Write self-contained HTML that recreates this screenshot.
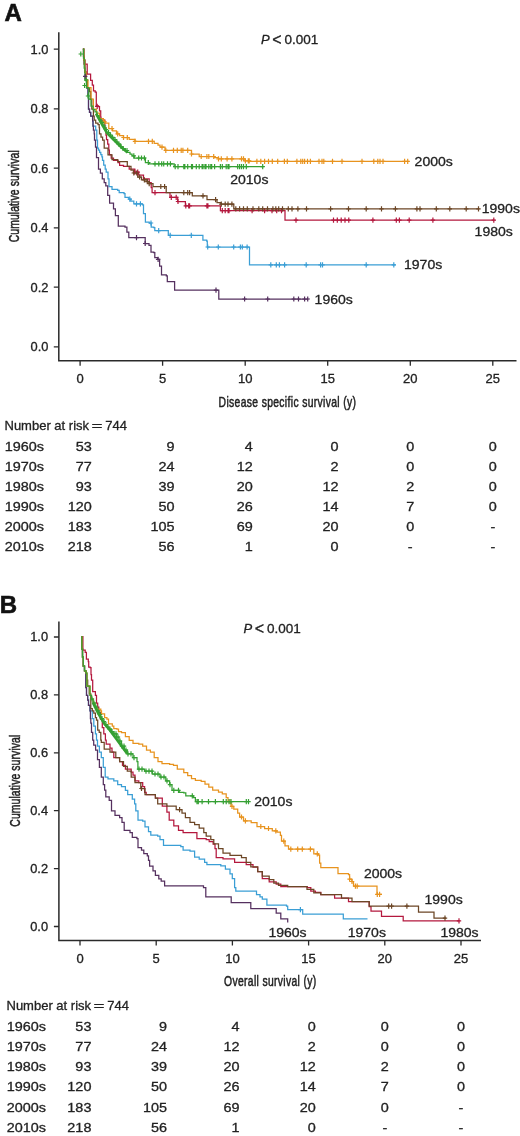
<!DOCTYPE html>
<html><head><meta charset="utf-8"><title>Survival</title>
<style>
html,body{margin:0;padding:0;background:#fff;}
body{width:520px;height:1136px;overflow:hidden;}
svg{display:block;will-change:transform;}
text{font-family:"Liberation Sans", sans-serif;fill:#222;}
.tk{font-size:12.5px;stroke:#222;stroke-width:0.3px;}
.tb{font-size:13px;stroke:#222;stroke-width:0.3px;}
.tl{font-size:13px;stroke:#222;stroke-width:0.3px;}
.lb{font-size:13px;stroke:#222;stroke-width:0.3px;}
.ax{font-size:14px;stroke:#222;stroke-width:0.5px;}
.pl{font-size:24px;font-weight:bold;fill:#111;stroke:#111;stroke-width:0.6px;}
</style></head>
<body>
<svg width="520" height="1136" viewBox="0 0 520 1136">
<text x="4.4" y="21.3" class="pl">A</text>
<text x="-0.2" y="612.5" class="pl">B</text>
<path d="M58.8 32.3V360.7H516.5" fill="none" stroke="#2a2a2a" stroke-width="1.5"/>
<path d="M53.8 346.8H58.8M53.8 287.2H58.8M53.8 227.8H58.8M53.8 168.2H58.8M53.8 108.8H58.8M53.8 49.2H58.8M80.1 360.7V365.7M162.6 360.7V365.7M245.2 360.7V365.7M327.7 360.7V365.7M410.3 360.7V365.7M492.8 360.7V365.7" stroke="#2a2a2a" stroke-width="1.3"/>
<text transform="translate(48.40,351.15) scale(1.030,1)" text-anchor="end" class="tk">0.0</text>
<text transform="translate(48.40,291.65) scale(1.030,1)" text-anchor="end" class="tk">0.2</text>
<text transform="translate(48.40,232.15) scale(1.030,1)" text-anchor="end" class="tk">0.4</text>
<text transform="translate(48.40,172.65) scale(1.030,1)" text-anchor="end" class="tk">0.6</text>
<text transform="translate(48.40,113.15) scale(1.030,1)" text-anchor="end" class="tk">0.8</text>
<text transform="translate(48.40,53.65) scale(1.030,1)" text-anchor="end" class="tk">1.0</text>
<text transform="translate(80.10,383.20) scale(1.040,1)" text-anchor="middle" class="tk">0</text>
<text transform="translate(162.64,383.20) scale(1.040,1)" text-anchor="middle" class="tk">5</text>
<text transform="translate(245.18,383.20) scale(1.040,1)" text-anchor="middle" class="tk">10</text>
<text transform="translate(327.72,383.20) scale(1.040,1)" text-anchor="middle" class="tk">15</text>
<text transform="translate(410.26,383.20) scale(1.040,1)" text-anchor="middle" class="tk">20</text>
<text transform="translate(492.80,383.20) scale(1.040,1)" text-anchor="middle" class="tk">25</text>
<text x="261.00" y="44.20" class="tl" font-style="italic">P</text>
<text x="277.00" y="44.60" text-anchor="middle" class="tl" style="font-size:16px">&lt;</text>
<text transform="translate(318.40,44.20) scale(1.040,1)" text-anchor="end" class="tl">0.001</text>
<text transform="translate(218.60,406.50) scale(0.740,1)" class="ax" textLength="185.68" lengthAdjust="spacing">Disease specific survival (y)</text>
<text transform="translate(18.60,242.30) rotate(-90) scale(0.740,1)" class="ax" textLength="124.32" lengthAdjust="spacing">Cumulative survival</text>
<path d="M82.9 49.2H83.8V60.0H84.8V72.0H86.0V80.0H87.0V88.0H88.0V95.4H88.5V109.2H89.5V112.3H90.7V116.2H92.6V120.8H93.0V126.0H95.7V130.0H96.8V140.0H97.5V148.0H98.5V150.0H99.6V152.3H100.8V154.6H101.9V156.9H102.5V160.4H103.7V165.0H105.2V169.0H106.2V172.0H108.0V178.8H109.0V186.5H112.0V189.4H117.7V190.4H119.2V192.5H124.0V193.5H125.0V197.3H128.8V199.2H130.8V201.2H133.8V203.8H142.5V204.8H143.5V213.5H145.4V222.1H149.2V223.0H151.2V227.0H153.8V227.7H154.8V230.6H168.3V235.4H202.9V240.2H206.7V241.2H207.3V247.0H249.5V264.8H395.6V264.8" fill="none" stroke="#3a9ed5" stroke-width="1.25"/>
<path d="M82.9 49.2H83.8V60.0H84.8V72.0H86.0V80.0H87.0V88.0H88.0V95.4H88.5V109.2H89.5V112.3H90.7V116.2H92.6V120.8H93.0V126.0H93.4V130.0H94.2V133.8H94.5V140.0H95.5V147.0H96.5V157.7H98.5V169.2H100.4V173.0H102.3V178.8H104.2V182.7H105.8V185.8H107.7V195.4H109.6V203.0H113.5V208.8H115.4V215.6H118.3V226.2H125.0V227.1H126.9V232.0H128.8V237.7H145.2V243.5H149.0V245.4H151.0V252.1H153.8V252.7H154.8V257.5H157.7V259.4H159.6V266.2H161.5V274.8H166.3V275.8H167.3V281.5H174.6V290.2H218.8V299.0H308.3V299.0" fill="none" stroke="#55305f" stroke-width="1.25"/>
<path d="M82.9 49.2H83.4V56.0H84.0V64.2H87.2V74.0H90.6V80.4H92.3V85.0H93.5V90.8H95.2V92.0H96.3V105.8H98.4V106.5H99.5V110.8H100.7V117.0H101.0V120.0H104.9V128.0H106.0V135.0H106.5V139.6H107.7V144.2H108.8V150.0H109.4V154.6H111.2V158.0H113.5V160.4H118.0V162.7H119.6V165.4H123.5V166.3H129.2V169.2H134.8V172.1H138.7V175.0H143.5V178.8H149.2V182.7H151.2V187.5H152.1V192.7H170.0V197.3H177.7V201.5H185.4V205.8H220.4V210.6H285.0V220.2H494.5V220.2" fill="none" stroke="#b4183e" stroke-width="1.25"/>
<path d="M82.9 49.2H83.8V60.0H84.8V72.0H86.0V80.0H87.2V87.7H89.5V91.5H90.7V99.2H91.8V109.2H93.4V116.2H94.2V120.0H95.7V123.0H98.0V124.6H99.2V127.7H99.5V133.8H101.0V137.0H102.6V140.0H104.2V148.0H108.0V154.8H112.0V159.6H117.7V161.5H123.5V161.5H127.3V166.3H131.0V170.2H133.8V173.0H137.7V177.0H141.5V179.8H147.3V181.7H149.2V183.7H153.0V186.5H166.2V192.7H192.3V195.8H207.0V199.6H217.0V202.7H220.8V204.2H233.8V208.8H479.4V208.8" fill="none" stroke="#6c4626" stroke-width="1.25"/>
<path d="M82.9 49.2H83.8V60.0H84.8V72.0H86.0V80.0H88.0V87.7H91.0V99.2H93.4V109.2H96.5V113.0H99.5V118.5H103.4V121.5H105.7V123.0H108.8V128.5H112.6V130.8H116.5V133.8H119.6V135.6H123.5V137.5H129.2V139.4H135.0V141.3H154.2V143.3H158.0V145.2H160.0V147.1H165.0V150.4H191.5V154.0H199.2V156.5H214.6V157.7H218.5V158.8H245.0V160.8H250.0V161.4H408.6V161.4" fill="none" stroke="#e8931e" stroke-width="1.25"/>
<path d="M82.9 49.2H83.5V58.0H84.2V68.0H84.9V80.0H86.5V87.7H88.8V99.2H91.0V106.0H93.0V109.5H95.0V111.9H97.0V115.5H99.0V119.0H100.8V122.3H102.7V126.0H104.6V129.5H106.5V132.7H108.8V135.0H111.0V137.3H113.5V139.6H115.8V142.0H118.0V144.2H120.5V146.5H123.0V148.5H125.3V150.5H127.3V152.3H130.0V154.0H132.0V155.8H134.2V158.0H145.4V162.5H149.2V163.8H174.2V166.6H263.5V166.6" fill="none" stroke="#35a033" stroke-width="1.25"/>
<polyline points="96.0,113.5 101.0,122.5 107.0,133.0 113.5,139.6 120.0,146.0 127.5,152.5" fill="none" stroke="#35a033" stroke-width="2.60" stroke-linejoin="round"/>
<path d="M129.8 196.6V201.8M127.6 199.2H132.0M136.5 201.2V206.4M134.3 203.8H138.7M140.4 201.2V206.4M138.2 203.8H142.6M151.0 220.4V225.6M148.8 223.0H153.2M158.7 228.0V233.2M156.5 230.6H160.9M170.2 232.8V238.0M168.0 235.4H172.4M191.3 232.8V238.0M189.1 235.4H193.5M207.7 244.4V249.6M205.5 247.0H209.9M218.3 244.4V249.6M216.1 247.0H220.5M233.7 244.4V249.6M231.5 247.0H235.9M240.4 244.4V249.6M238.2 247.0H242.6M242.3 244.4V249.6M240.1 247.0H244.5M247.1 244.4V249.6M244.9 247.0H249.3M270.8 262.2V267.4M268.6 264.8H273.0M276.3 262.2V267.4M274.1 264.8H278.5M279.4 262.2V267.4M277.2 264.8H281.6M284.6 262.2V267.4M282.4 264.8H286.8M306.2 262.2V267.4M304.0 264.8H308.4M320.6 262.2V267.4M318.4 264.8H322.8M322.5 262.2V267.4M320.3 264.8H324.7M366.2 262.2V267.4M364.0 264.8H368.4M393.8 262.2V267.4M391.6 264.8H396.0" fill="none" stroke="#3a9ed5" stroke-width="1.2"/>
<path d="M85.2 73.7V78.9M83.0 76.3H87.4M136.5 235.1V240.3M134.3 237.7H138.7M145.2 240.9V246.1M143.0 243.5H147.4M158.1 256.8V262.0M155.9 259.4H160.3M216.0 287.6V292.8M213.8 290.2H218.2M244.6 296.4V301.6M242.4 299.0H246.8M267.7 296.4V301.6M265.5 299.0H269.9M293.8 296.4V301.6M291.6 299.0H296.0M298.5 296.4V301.6M296.3 299.0H300.7M304.6 296.4V301.6M302.4 299.0H306.8M307.7 296.4V301.6M305.5 299.0H309.9" fill="none" stroke="#55305f" stroke-width="1.2"/>
<path d="M97.2 103.7V108.9M95.0 106.3H99.4M134.8 169.5V174.7M132.6 172.1H137.0M137.7 169.5V174.7M135.5 172.1H139.9M155.0 190.1V195.3M152.8 192.7H157.2M171.3 194.7V199.9M169.1 197.3H173.5M176.2 194.7V199.9M174.0 197.3H178.4M178.0 198.9V204.1M175.8 201.5H180.2M185.8 203.2V208.4M183.6 205.8H188.0M188.7 203.2V208.4M186.5 205.8H190.9M189.6 203.2V208.4M187.4 205.8H191.8M206.9 203.2V208.4M204.7 205.8H209.1M207.9 203.2V208.4M205.7 205.8H210.1M222.3 208.0V213.2M220.1 210.6H224.5M225.2 208.0V213.2M223.0 210.6H227.4M228.1 208.0V213.2M225.9 210.6H230.3M229.0 208.0V213.2M226.8 210.6H231.2M252.1 208.0V213.2M249.9 210.6H254.3M264.6 208.0V213.2M262.4 210.6H266.8M272.0 208.0V213.2M269.8 210.6H274.2M276.7 208.0V213.2M274.5 210.6H278.9M281.5 208.0V213.2M279.3 210.6H283.7M296.0 217.6V222.8M293.8 220.2H298.2M333.5 217.6V222.8M331.3 220.2H335.7M337.3 217.6V222.8M335.1 220.2H339.5M341.2 217.6V222.8M339.0 220.2H343.4M345.0 217.6V222.8M342.8 220.2H347.2M348.8 217.6V222.8M346.6 220.2H351.0M372.9 217.6V222.8M370.7 220.2H375.1M396.3 217.6V222.8M394.1 220.2H398.5M399.4 217.6V222.8M397.2 220.2H401.6M409.2 217.6V222.8M407.0 220.2H411.4M432.9 217.6V222.8M430.7 220.2H435.1M493.8 217.6V222.8M491.6 220.2H496.0" fill="none" stroke="#b4183e" stroke-width="1.2"/>
<path d="M133.8 170.4V175.6M131.6 173.0H136.0M136.7 170.4V175.6M134.5 173.0H138.9M139.6 174.4V179.6M137.4 177.0H141.8M144.4 177.2V182.4M142.2 179.8H146.6M147.3 179.1V184.3M145.1 181.7H149.5M149.2 181.1V186.3M147.0 183.7H151.4M160.8 183.9V189.1M158.6 186.5H163.0M164.6 183.9V189.1M162.4 186.5H166.8M183.8 190.1V195.3M181.6 192.7H186.0M187.7 190.1V195.3M185.5 192.7H189.9M189.6 190.1V195.3M187.4 192.7H191.8M203.0 193.2V198.4M200.8 195.8H205.2M215.6 197.0V202.2M213.4 199.6H217.8M221.3 201.6V206.8M219.1 204.2H223.5M225.2 201.6V206.8M223.0 204.2H227.4M228.0 201.6V206.8M225.8 204.2H230.2M231.9 201.6V206.8M229.7 204.2H234.1M235.8 206.2V211.4M233.6 208.8H238.0M239.6 206.2V211.4M237.4 208.8H241.8M243.5 206.2V211.4M241.3 208.8H245.7M247.3 206.2V211.4M245.1 208.8H249.5M253.0 206.2V211.4M250.8 208.8H255.2M258.8 206.2V211.4M256.6 208.8H261.0M262.7 206.2V211.4M260.5 208.8H264.9M267.5 206.2V211.4M265.3 208.8H269.7M272.9 206.2V211.4M270.7 208.8H275.1M275.8 206.2V211.4M273.6 208.8H278.0M278.7 206.2V211.4M276.5 208.8H280.9M282.5 206.2V211.4M280.3 208.8H284.7M288.3 206.2V211.4M286.1 208.8H290.5M292.0 206.2V211.4M289.8 208.8H294.2M297.9 206.2V211.4M295.7 208.8H300.1M306.5 206.2V211.4M304.3 208.8H308.7M330.6 206.2V211.4M328.4 208.8H332.8M348.5 206.2V211.4M346.3 208.8H350.7M366.2 206.2V211.4M364.0 208.8H368.4M381.5 206.2V211.4M379.3 208.8H383.7M395.4 206.2V211.4M393.2 208.8H397.6M416.9 206.2V211.4M414.7 208.8H419.1M420.0 206.2V211.4M417.8 208.8H422.2M436.3 206.2V211.4M434.1 208.8H438.5M449.8 206.2V211.4M447.6 208.8H452.0M466.2 206.2V211.4M464.0 208.8H468.4M478.5 206.2V211.4M476.3 208.8H480.7" fill="none" stroke="#6c4626" stroke-width="1.2"/>
<path d="M104.2 118.9V124.1M102.0 121.5H106.4M112.0 125.9V131.1M109.8 128.5H114.2M117.7 131.2V136.4M115.5 133.8H119.9M123.5 134.9V140.1M121.3 137.5H125.7M127.3 134.9V140.1M125.1 137.5H129.5M135.0 138.7V143.9M132.8 141.3H137.2M148.5 138.7V143.9M146.3 141.3H150.7M152.3 138.7V143.9M150.1 141.3H154.5M162.0 144.5V149.7M159.8 147.1H164.2M165.8 147.8V153.0M163.6 150.4H168.0M173.5 147.8V153.0M171.3 150.4H175.7M177.3 147.8V153.0M175.1 150.4H179.5M181.2 147.8V153.0M179.0 150.4H183.4M182.9 147.8V153.0M180.7 150.4H185.1M187.7 147.8V153.0M185.5 150.4H189.9M191.5 151.4V156.6M189.3 154.0H193.7M201.2 153.9V159.1M199.0 156.5H203.4M206.9 153.9V159.1M204.7 156.5H209.1M208.8 153.9V159.1M206.6 156.5H211.0M213.7 153.9V159.1M211.5 156.5H215.9M218.5 156.2V161.4M216.3 158.8H220.7M221.3 156.2V161.4M219.1 158.8H223.5M227.1 156.2V161.4M224.9 158.8H229.3M231.9 156.2V161.4M229.7 158.8H234.1M241.5 156.2V161.4M239.3 158.8H243.7M243.5 156.2V161.4M241.3 158.8H245.7M245.4 158.2V163.4M243.2 160.8H247.6M248.3 158.2V163.4M246.1 160.8H250.5M249.2 158.2V163.4M247.0 160.8H251.4M256.9 158.8V164.0M254.7 161.4H259.1M260.8 158.8V164.0M258.6 161.4H263.0M264.6 158.8V164.0M262.4 161.4H266.8M268.5 158.8V164.0M266.3 161.4H270.7M272.3 158.8V164.0M270.1 161.4H274.5M277.7 158.8V164.0M275.5 161.4H279.9M284.4 158.8V164.0M282.2 161.4H286.6M287.3 158.8V164.0M285.1 161.4H289.5M296.9 158.8V164.0M294.7 161.4H299.1M300.8 158.8V164.0M298.6 161.4H303.0M302.7 158.8V164.0M300.5 161.4H304.9M304.6 158.8V164.0M302.4 161.4H306.8M307.5 158.8V164.0M305.3 161.4H309.7M310.4 158.8V164.0M308.2 161.4H312.6M319.0 158.8V164.0M316.8 161.4H321.2M322.0 158.8V164.0M319.8 161.4H324.2M323.8 158.8V164.0M321.6 161.4H326.0M332.5 158.8V164.0M330.3 161.4H334.7M342.0 158.8V164.0M339.8 161.4H344.2M362.0 158.8V164.0M359.8 161.4H364.2M373.8 158.8V164.0M371.6 161.4H376.0M377.8 158.8V164.0M375.6 161.4H380.0M380.0 158.8V164.0M377.8 161.4H382.2M383.0 158.8V164.0M380.8 161.4H385.2M404.6 158.8V164.0M402.4 161.4H406.8M407.7 158.8V164.0M405.5 161.4H409.9" fill="none" stroke="#e8931e" stroke-width="1.2"/>
<path d="M80.8 51.4V56.6M78.6 54.0H83.0M86.2 77.4V82.6M84.0 80.0H88.4M84.6 82.9V88.1M82.4 85.5H86.8M88.0 93.4V98.6M85.8 96.0H90.2M102.0 119.7V124.9M99.8 122.3H104.2M104.0 123.4V128.6M101.8 126.0H106.2M106.0 126.9V132.1M103.8 129.5H108.2M108.5 130.1V135.3M106.3 132.7H110.7M110.5 132.4V137.6M108.3 135.0H112.7M112.5 134.7V139.9M110.3 137.3H114.7M115.0 137.0V142.2M112.8 139.6H117.2M117.0 139.4V144.6M114.8 142.0H119.2M119.0 141.6V146.8M116.8 144.2H121.2M121.0 143.9V149.1M118.8 146.5H123.2M123.0 145.9V151.1M120.8 148.5H125.2M127.0 147.9V153.1M124.8 150.5H129.2M133.8 153.2V158.4M131.6 155.8H136.0M138.7 155.4V160.6M136.5 158.0H140.9M141.5 155.4V160.6M139.3 158.0H143.7M144.4 155.4V160.6M142.2 158.0H146.6M148.3 159.9V165.1M146.1 162.5H150.5M155.0 161.2V166.4M152.8 163.8H157.2M158.8 161.2V166.4M156.6 163.8H161.0M161.7 161.2V166.4M159.5 163.8H163.9M163.7 161.2V166.4M161.5 163.8H165.9M167.5 161.2V166.4M165.3 163.8H169.7M170.4 161.2V166.4M168.2 163.8H172.6M175.2 164.0V169.2M173.0 166.6H177.4M178.0 164.0V169.2M175.8 166.6H180.2M183.8 164.0V169.2M181.6 166.6H186.0M184.8 164.0V169.2M182.6 166.6H187.0M187.7 164.0V169.2M185.5 166.6H189.9M191.5 164.0V169.2M189.3 166.6H193.7M192.5 164.0V169.2M190.3 166.6H194.7M196.3 164.0V169.2M194.1 166.6H198.5M199.2 164.0V169.2M197.0 166.6H201.4M202.1 164.0V169.2M199.9 166.6H204.3M203.0 164.0V169.2M200.8 166.6H205.2M205.0 164.0V169.2M202.8 166.6H207.2M206.0 164.0V169.2M203.8 166.6H208.2M208.8 164.0V169.2M206.6 166.6H211.0M210.8 164.0V169.2M208.6 166.6H213.0M211.7 164.0V169.2M209.5 166.6H213.9M214.6 164.0V169.2M212.4 166.6H216.8M220.4 164.0V169.2M218.2 166.6H222.6M222.3 164.0V169.2M220.1 166.6H224.5M226.2 164.0V169.2M224.0 166.6H228.4M228.0 164.0V169.2M225.8 166.6H230.2M229.0 164.0V169.2M226.8 166.6H231.2M237.7 164.0V169.2M235.5 166.6H239.9M239.6 164.0V169.2M237.4 166.6H241.8M241.5 164.0V169.2M239.3 166.6H243.7M243.5 164.0V169.2M241.3 166.6H245.7M246.3 164.0V169.2M244.1 166.6H248.5M262.7 164.0V169.2M260.5 166.6H264.9" fill="none" stroke="#35a033" stroke-width="1.2"/>
<text transform="translate(414.60,166.20) scale(1.080,1)" class="lb">2000s</text>
<text transform="translate(230.20,184.20) scale(1.080,1)" class="lb">2010s</text>
<text transform="translate(481.70,213.20) scale(1.080,1)" class="lb">1990s</text>
<text transform="translate(474.60,236.00) scale(1.080,1)" class="lb">1980s</text>
<text transform="translate(404.00,268.70) scale(1.080,1)" class="lb">1970s</text>
<text transform="translate(314.60,303.80) scale(1.080,1)" class="lb">1960s</text>
<text x="4.50" y="430.20" class="tb">Number at risk</text>
<text transform="translate(97.10,430.00) scale(1.450,1)" text-anchor="middle" class="tb">=</text>
<text x="105.30" y="430.20" class="tb">744</text>
<text transform="translate(4.80,451.25) scale(1.110,1)" class="tb">1960s</text>
<text transform="translate(91.70,451.25) scale(1.110,1)" text-anchor="end" class="tb">53</text>
<text transform="translate(174.50,451.25) scale(1.110,1)" text-anchor="end" class="tb">9</text>
<text transform="translate(252.80,451.25) scale(1.110,1)" text-anchor="end" class="tb">4</text>
<text transform="translate(338.50,451.25) scale(1.110,1)" text-anchor="end" class="tb">0</text>
<text transform="translate(410.26,451.25) scale(1.110,1)" text-anchor="middle" class="tb">0</text>
<text transform="translate(492.80,451.25) scale(1.110,1)" text-anchor="middle" class="tb">0</text>
<text transform="translate(4.80,471.25) scale(1.110,1)" class="tb">1970s</text>
<text transform="translate(91.70,471.25) scale(1.110,1)" text-anchor="end" class="tb">77</text>
<text transform="translate(174.50,471.25) scale(1.110,1)" text-anchor="end" class="tb">24</text>
<text transform="translate(252.80,471.25) scale(1.110,1)" text-anchor="end" class="tb">12</text>
<text transform="translate(338.50,471.25) scale(1.110,1)" text-anchor="end" class="tb">2</text>
<text transform="translate(410.26,471.25) scale(1.110,1)" text-anchor="middle" class="tb">0</text>
<text transform="translate(492.80,471.25) scale(1.110,1)" text-anchor="middle" class="tb">0</text>
<text transform="translate(4.80,491.25) scale(1.110,1)" class="tb">1980s</text>
<text transform="translate(91.70,491.25) scale(1.110,1)" text-anchor="end" class="tb">93</text>
<text transform="translate(174.50,491.25) scale(1.110,1)" text-anchor="end" class="tb">39</text>
<text transform="translate(252.80,491.25) scale(1.110,1)" text-anchor="end" class="tb">20</text>
<text transform="translate(338.50,491.25) scale(1.110,1)" text-anchor="end" class="tb">12</text>
<text transform="translate(410.26,491.25) scale(1.110,1)" text-anchor="middle" class="tb">2</text>
<text transform="translate(492.80,491.25) scale(1.110,1)" text-anchor="middle" class="tb">0</text>
<text transform="translate(4.80,511.25) scale(1.110,1)" class="tb">1990s</text>
<text transform="translate(91.70,511.25) scale(1.110,1)" text-anchor="end" class="tb">120</text>
<text transform="translate(174.50,511.25) scale(1.110,1)" text-anchor="end" class="tb">50</text>
<text transform="translate(252.80,511.25) scale(1.110,1)" text-anchor="end" class="tb">26</text>
<text transform="translate(338.50,511.25) scale(1.110,1)" text-anchor="end" class="tb">14</text>
<text transform="translate(410.26,511.25) scale(1.110,1)" text-anchor="middle" class="tb">7</text>
<text transform="translate(492.80,511.25) scale(1.110,1)" text-anchor="middle" class="tb">0</text>
<text transform="translate(4.80,531.25) scale(1.110,1)" class="tb">2000s</text>
<text transform="translate(91.70,531.25) scale(1.110,1)" text-anchor="end" class="tb">183</text>
<text transform="translate(174.50,531.25) scale(1.110,1)" text-anchor="end" class="tb">105</text>
<text transform="translate(252.80,531.25) scale(1.110,1)" text-anchor="end" class="tb">69</text>
<text transform="translate(338.50,531.25) scale(1.110,1)" text-anchor="end" class="tb">20</text>
<text transform="translate(410.26,531.25) scale(1.110,1)" text-anchor="middle" class="tb">0</text>
<text transform="translate(492.80,531.25) scale(1.110,1)" text-anchor="middle" class="tb">-</text>
<text transform="translate(4.80,551.25) scale(1.110,1)" class="tb">2010s</text>
<text transform="translate(91.70,551.25) scale(1.110,1)" text-anchor="end" class="tb">218</text>
<text transform="translate(174.50,551.25) scale(1.110,1)" text-anchor="end" class="tb">56</text>
<text transform="translate(252.80,551.25) scale(1.110,1)" text-anchor="end" class="tb">1</text>
<text transform="translate(338.50,551.25) scale(1.110,1)" text-anchor="end" class="tb">0</text>
<text transform="translate(410.26,551.25) scale(1.110,1)" text-anchor="middle" class="tb">-</text>
<text transform="translate(492.80,551.25) scale(1.110,1)" text-anchor="middle" class="tb">-</text>
<path d="M58.9 621.5V940.4H481.0" fill="none" stroke="#2a2a2a" stroke-width="1.5"/>
<path d="M53.9 926.5H58.9M53.9 868.6H58.9M53.9 810.7H58.9M53.9 752.8H58.9M53.9 694.9H58.9M53.9 637.0H58.9M80.0 940.4V945.4M156.2 940.4V945.4M232.4 940.4V945.4M308.6 940.4V945.4M384.8 940.4V945.4M461.0 940.4V945.4" stroke="#2a2a2a" stroke-width="1.3"/>
<text transform="translate(48.10,930.90) scale(1.030,1)" text-anchor="end" class="tk">0.0</text>
<text transform="translate(48.10,873.00) scale(1.030,1)" text-anchor="end" class="tk">0.2</text>
<text transform="translate(48.10,815.10) scale(1.030,1)" text-anchor="end" class="tk">0.4</text>
<text transform="translate(48.10,757.20) scale(1.030,1)" text-anchor="end" class="tk">0.6</text>
<text transform="translate(48.10,699.30) scale(1.030,1)" text-anchor="end" class="tk">0.8</text>
<text transform="translate(48.10,641.40) scale(1.030,1)" text-anchor="end" class="tk">1.0</text>
<text transform="translate(80.00,962.90) scale(1.040,1)" text-anchor="middle" class="tk">0</text>
<text transform="translate(156.20,962.90) scale(1.040,1)" text-anchor="middle" class="tk">5</text>
<text transform="translate(232.40,962.90) scale(1.040,1)" text-anchor="middle" class="tk">10</text>
<text transform="translate(308.60,962.90) scale(1.040,1)" text-anchor="middle" class="tk">15</text>
<text transform="translate(384.80,962.90) scale(1.040,1)" text-anchor="middle" class="tk">20</text>
<text transform="translate(461.00,962.90) scale(1.040,1)" text-anchor="middle" class="tk">25</text>
<text x="243.40" y="633.10" class="tl" font-style="italic">P</text>
<text x="259.40" y="633.50" text-anchor="middle" class="tl" style="font-size:16px">&lt;</text>
<text transform="translate(300.80,633.10) scale(1.040,1)" text-anchor="end" class="tl">0.001</text>
<text transform="translate(224.00,986.30) scale(0.740,1)" class="ax" textLength="124.59" lengthAdjust="spacing">Overall survival (y)</text>
<text transform="translate(20.00,826.70) rotate(-90) scale(0.740,1)" class="ax" textLength="124.32" lengthAdjust="spacing">Cumulative survival</text>
<path d="M81.4 636.5H81.8V649.0H82.5V657.0H83.3V666.0H84.5V670.8H85.8V687.7H86.5V695.4H87.7V700.0H88.5V705.4H90.0V710.8H92.3V718.5H93.8V726.2H95.4V733.8H96.5V740.0H97.5V746.2H99.4V752.0H101.3V757.7H103.3V767.3H105.2V777.0H108.0V778.8H113.8V780.8H117.7V784.6H121.5V786.5H125.4V790.4H127.7V794.6H132.3V799.2H134.6V803.8H135.8V810.8H138.0V820.0H142.7V821.2H145.0V826.9H148.5V831.5H150.8V835.0H157.7V836.2H160.0V839.6H163.5V845.4H180.8V846.5H183.1V850.0H190.0V851.2H194.6V857.0H199.2V859.2H204.6V862.3H206.9V864.6H220.8V865.8H225.4V869.2H230.0V873.8H232.3V878.5H234.6V887.7H235.8V891.2H256.5V894.6H260.0V896.9H262.3V899.2H266.9V905.0H286.5V906.2H287.7V909.6H302.7V914.2H343.3V918.8H367.5V918.8" fill="none" stroke="#3a9ed5" stroke-width="1.25"/>
<path d="M81.4 636.5H81.8V649.0H82.5V657.0H83.3V666.0H84.5V670.8H85.8V687.7H86.5V695.4H87.7V700.0H88.5V705.4H90.0V710.8H90.4V718.5H90.8V723.0H91.5V732.3H92.7V740.0H93.7V745.0H95.6V750.0H97.5V759.6H99.4V767.3H101.3V777.0H103.3V784.6H104.6V790.0H105.8V796.9H109.2V800.4H111.5V810.8H115.0V815.4H119.6V817.7H122.0V822.3H124.2V830.4H130.0V832.7H132.3V837.3H136.9V838.5H138.0V847.7H141.5V850.0H143.8V853.5H147.3V855.8H148.5V860.4H149.6V866.2H153.0V870.8H155.4V875.4H158.8V878.8H161.2V881.2H164.6V885.8H203.5V887.7H205.8V896.9H231.2V902.7H250.8V908.5H276.2V913.1H280.8V918.8H287.7V922.5" fill="none" stroke="#55305f" stroke-width="1.25"/>
<path d="M81.4 636.5H82.9V650.0H85.2V652.3H86.4V659.2H88.3V661.5H88.7V667.0H90.2V667.7H91.0V674.6H91.5V680.0H92.7V691.5H95.4V695.4H96.5V703.0H97.7V707.0H98.8V712.3H100.4V719.2H102.3V727.5H103.8V733.8H105.4V740.0H106.2V744.2H110.0V748.0H112.0V752.0H113.8V757.7H119.6V761.5H122.5V765.4H125.4V769.2H131.2V772.0H133.0V775.0H135.0V780.8H138.8V782.7H142.7V786.5H144.6V792.3H146.2V794.6H155.4V798.0H162.3V806.2H166.9V812.0H169.2V820.0H173.8V825.8H178.5V830.4H183.1V832.7H196.9V838.5H206.2V839.6H209.2V841.5H213.1V844.2H215.0V848.5H216.2V857.7H223.0V858.8H234.6V862.3H246.2V864.6H253.0V867.0H257.7V871.5H262.3V878.5H269.2V881.9H276.2V884.2H280.8V886.5H307.3V887.7H310.8V891.2H315.4V892.3H320.8V894.6H334.6V898.0H348.5V901.5H369.2V906.7H371.0V911.0H381.5V916.4H403.2V920.8H459.4V920.8" fill="none" stroke="#b4183e" stroke-width="1.25"/>
<path d="M81.4 636.5H81.8V649.0H82.5V657.0H83.3V666.0H84.5V670.8H86.0V673.0H86.8V680.0H87.7V686.2H89.2V693.8H90.8V708.5H92.3V710.8H93.8V713.0H95.4V717.7H96.5V720.0H97.7V730.0H99.2V732.3H100.8V740.0H101.3V742.3H104.2V749.0H110.0V752.0H115.8V757.7H119.6V761.5H123.5V766.3H127.3V771.2H131.2V777.0H135.0V782.7H140.8V788.5H145.0V794.6H155.4V798.0H157.7V803.8H166.9V806.2H176.2V809.6H182.0V813.0H185.4V817.7H190.0V822.3H194.6V824.6H199.2V828.0H203.8V832.7H206.2V836.2H210.8V839.6H213.8V843.8H218.5V848.5H223.0V853.0H230.0V855.4H241.5V857.7H246.2V862.3H250.8V866.9H257.7V871.5H262.3V876.2H269.2V879.6H273.8V883.1H278.5V885.4H287.7V886.5H307.0V889.4H313.8V892.9H320.8V894.6H341.5V898.0H352.0V901.5H369.2V906.2H418.5V912.1H434.0V918.2H446.0V918.2" fill="none" stroke="#6c4626" stroke-width="1.25"/>
<path d="M81.4 636.5H81.8V649.0H82.5V657.0H83.3V666.0H84.5V670.8H86.0V673.0H86.9V686.2H90.0V695.4H91.5V699.0H93.1V703.0H95.0V707.0H96.6V709.2H100.8V710.8H101.5V713.8H104.6V717.7H106.9V719.2H108.5V723.8H112.3V726.2H113.8V728.5H116.9V729.2H118.5V731.5H121.5V732.7H125.4V736.5H129.2V740.4H133.0V743.3H138.8V744.2H142.7V746.2H146.5V750.0H150.4V752.0H154.2V757.7H158.0V761.5H162.0V763.5H169.6V764.4H173.5V765.4H177.3V769.2H183.8V772.7H187.7V775.6H191.5V778.5H195.4V780.4H201.2V781.3H205.0V784.2H208.8V787.1H212.7V790.0H218.5V792.0H222.3V793.8H226.2V797.7H228.0V801.5H231.0V806.3H233.8V809.2H237.7V813.0H239.6V817.0H243.5V820.8H251.2V822.7H257.0V826.5H264.6V828.5H272.3V830.8H276.9V832.0H280.4V835.4H281.5V841.2H285.0V845.8H288.5V849.2H313.8V853.8H318.5V855.0H319.6V863.0H320.8V867.5H338.0V873.5H348.5V874.6H349.6V879.2H351.9V881.5H353.5V886.2H377.0V894.4H382.0V894.4" fill="none" stroke="#e8931e" stroke-width="1.25"/>
<path d="M81.4 636.5H81.8V649.0H82.5V657.0H83.3V666.0H84.5V670.8H86.0V673.0H86.9V686.2H90.0V695.4H91.5V699.0H93.1V703.0H95.0V707.0H96.9V710.8H98.8V714.5H100.8V718.5H102.7V721.5H104.6V724.6H106.9V727.0H109.2V729.2H111.5V731.5H113.8V733.8H116.5V737.0H119.0V741.0H121.5V746.2H124.5V750.0H127.3V753.8H133.0V757.7H137.0V761.5H137.9V769.2H144.6V771.2H152.3V774.0H160.0V777.0H165.8V780.8H169.6V784.6H172.0V790.4H179.2V792.3H183.8V792.9H185.8V795.8H193.5V797.7H195.4V801.7H248.7V801.7" fill="none" stroke="#35a033" stroke-width="1.25"/>
<polyline points="93.0,703.0 98.0,713.0 104.6,724.0 110.0,730.5 116.0,738.5 121.5,746.0 127.0,753.5" fill="none" stroke="#35a033" stroke-width="2.60" stroke-linejoin="round"/>
<path d="M300.4 907.0V912.2M298.2 909.6H302.6" fill="none" stroke="#3a9ed5" stroke-width="1.2"/>
<path d="M459.0 918.2V923.4M456.8 920.8H461.2" fill="none" stroke="#b4183e" stroke-width="1.2"/>
<path d="M141.5 785.9V791.1M139.3 788.5H143.7M179.6 807.0V812.2M177.4 809.6H181.8M388.7 903.6V908.8M386.5 906.2H390.9M391.6 903.6V908.8M389.4 906.2H393.8M406.9 903.6V908.8M404.7 906.2H409.1M445.0 915.6V920.8M442.8 918.2H447.2" fill="none" stroke="#6c4626" stroke-width="1.2"/>
<path d="M230.0 798.9V804.1M227.8 801.5H232.2M232.0 803.7V808.9M229.8 806.3H234.2M241.5 814.4V819.6M239.3 817.0H243.7M245.4 818.2V823.4M243.2 820.8H247.6M260.8 823.9V829.1M258.6 826.5H263.0M268.5 825.9V831.1M266.3 828.5H270.7M275.8 828.2V833.4M273.6 830.8H278.0M283.8 838.6V843.8M281.6 841.2H286.0M290.8 846.6V851.8M288.6 849.2H293.0M297.7 846.6V851.8M295.5 849.2H299.9M302.3 846.6V851.8M300.1 849.2H304.5M310.4 846.6V851.8M308.2 849.2H312.6M317.3 851.2V856.4M315.1 853.8H319.5M349.6 876.6V881.8M347.4 879.2H351.8M352.0 878.9V884.1M349.8 881.5H354.2M355.4 883.6V888.8M353.2 886.2H357.6M357.2 883.6V888.8M355.0 886.2H359.4M377.3 891.8V897.0M375.1 894.4H379.5M379.6 891.8V897.0M377.4 894.4H381.8" fill="none" stroke="#e8931e" stroke-width="1.2"/>
<path d="M92.0 696.4V701.6M89.8 699.0H94.2M94.0 700.4V705.6M91.8 703.0H96.2M96.0 704.4V709.6M93.8 707.0H98.2M98.0 708.2V713.4M95.8 710.8H100.2M100.0 711.9V717.1M97.8 714.5H102.2M102.0 715.9V721.1M99.8 718.5H104.2M104.0 718.9V724.1M101.8 721.5H106.2M106.0 722.0V727.2M103.8 724.6H108.2M108.0 724.4V729.6M105.8 727.0H110.2M110.0 726.6V731.8M107.8 729.2H112.2M112.0 728.9V734.1M109.8 731.5H114.2M114.0 731.2V736.4M111.8 733.8H116.2M116.0 731.2V736.4M113.8 733.8H118.2M118.0 734.4V739.6M115.8 737.0H120.2M120.0 738.4V743.6M117.8 741.0H122.2M122.0 743.6V748.8M119.8 746.2H124.2M124.0 743.6V748.8M121.8 746.2H126.2M126.0 747.4V752.6M123.8 750.0H128.2M128.0 751.2V756.4M125.8 753.8H130.2M131.0 751.2V756.4M128.8 753.8H133.2M134.0 755.1V760.3M131.8 757.7H136.2M139.0 766.6V771.8M136.8 769.2H141.2M142.0 766.6V771.8M139.8 769.2H144.2M146.0 768.6V773.8M143.8 771.2H148.2M149.0 768.6V773.8M146.8 771.2H151.2M152.0 768.6V773.8M149.8 771.2H154.2M155.0 771.4V776.6M152.8 774.0H157.2M158.0 771.4V776.6M155.8 774.0H160.2M161.0 774.4V779.6M158.8 777.0H163.2M164.0 774.4V779.6M161.8 777.0H166.2M167.0 778.2V783.4M164.8 780.8H169.2M170.0 782.0V787.2M167.8 784.6H172.2M173.8 787.8V793.0M171.6 790.4H176.0M178.5 787.8V793.0M176.3 790.4H180.7M192.3 793.2V798.4M190.1 795.8H194.5M197.0 799.1V804.3M194.8 801.7H199.2M198.3 799.1V804.3M196.1 801.7H200.5M202.1 799.1V804.3M199.9 801.7H204.3M208.5 799.1V804.3M206.3 801.7H210.7M215.4 799.1V804.3M213.2 801.7H217.6M223.3 799.1V804.3M221.1 801.7H225.5M226.2 799.1V804.3M224.0 801.7H228.4M229.0 799.1V804.3M226.8 801.7H231.2M231.0 799.1V804.3M228.8 801.7H233.2M246.3 799.1V804.3M244.1 801.7H248.5M248.5 799.1V804.3M246.3 801.7H250.7" fill="none" stroke="#35a033" stroke-width="1.2"/>
<text transform="translate(254.20,806.00) scale(1.080,1)" class="lb">2010s</text>
<text transform="translate(363.90,878.00) scale(1.080,1)" class="lb">2000s</text>
<text transform="translate(424.50,904.00) scale(1.080,1)" class="lb">1990s</text>
<text transform="translate(440.40,936.80) scale(1.080,1)" class="lb">1980s</text>
<text transform="translate(347.70,937.00) scale(1.080,1)" class="lb">1970s</text>
<text transform="translate(268.40,937.30) scale(1.080,1)" class="lb">1960s</text>
<text x="6.50" y="1010.00" class="tb">Number at risk</text>
<text transform="translate(99.10,1009.80) scale(1.450,1)" text-anchor="middle" class="tb">=</text>
<text x="107.30" y="1010.00" class="tb">744</text>
<text transform="translate(6.80,1030.75) scale(1.110,1)" class="tb">1960s</text>
<text transform="translate(91.40,1030.75) scale(1.110,1)" text-anchor="end" class="tb">53</text>
<text transform="translate(167.10,1030.75) scale(1.110,1)" text-anchor="end" class="tb">9</text>
<text transform="translate(239.60,1030.75) scale(1.110,1)" text-anchor="end" class="tb">4</text>
<text transform="translate(315.80,1030.75) scale(1.110,1)" text-anchor="end" class="tb">0</text>
<text transform="translate(384.80,1030.75) scale(1.110,1)" text-anchor="middle" class="tb">0</text>
<text transform="translate(461.00,1030.75) scale(1.110,1)" text-anchor="middle" class="tb">0</text>
<text transform="translate(6.80,1050.95) scale(1.110,1)" class="tb">1970s</text>
<text transform="translate(91.40,1050.95) scale(1.110,1)" text-anchor="end" class="tb">77</text>
<text transform="translate(167.10,1050.95) scale(1.110,1)" text-anchor="end" class="tb">24</text>
<text transform="translate(239.60,1050.95) scale(1.110,1)" text-anchor="end" class="tb">12</text>
<text transform="translate(315.80,1050.95) scale(1.110,1)" text-anchor="end" class="tb">2</text>
<text transform="translate(384.80,1050.95) scale(1.110,1)" text-anchor="middle" class="tb">0</text>
<text transform="translate(461.00,1050.95) scale(1.110,1)" text-anchor="middle" class="tb">0</text>
<text transform="translate(6.80,1071.15) scale(1.110,1)" class="tb">1980s</text>
<text transform="translate(91.40,1071.15) scale(1.110,1)" text-anchor="end" class="tb">93</text>
<text transform="translate(167.10,1071.15) scale(1.110,1)" text-anchor="end" class="tb">39</text>
<text transform="translate(239.60,1071.15) scale(1.110,1)" text-anchor="end" class="tb">20</text>
<text transform="translate(315.80,1071.15) scale(1.110,1)" text-anchor="end" class="tb">12</text>
<text transform="translate(384.80,1071.15) scale(1.110,1)" text-anchor="middle" class="tb">2</text>
<text transform="translate(461.00,1071.15) scale(1.110,1)" text-anchor="middle" class="tb">0</text>
<text transform="translate(6.80,1091.35) scale(1.110,1)" class="tb">1990s</text>
<text transform="translate(91.40,1091.35) scale(1.110,1)" text-anchor="end" class="tb">120</text>
<text transform="translate(167.10,1091.35) scale(1.110,1)" text-anchor="end" class="tb">50</text>
<text transform="translate(239.60,1091.35) scale(1.110,1)" text-anchor="end" class="tb">26</text>
<text transform="translate(315.80,1091.35) scale(1.110,1)" text-anchor="end" class="tb">14</text>
<text transform="translate(384.80,1091.35) scale(1.110,1)" text-anchor="middle" class="tb">7</text>
<text transform="translate(461.00,1091.35) scale(1.110,1)" text-anchor="middle" class="tb">0</text>
<text transform="translate(6.80,1111.55) scale(1.110,1)" class="tb">2000s</text>
<text transform="translate(91.40,1111.55) scale(1.110,1)" text-anchor="end" class="tb">183</text>
<text transform="translate(167.10,1111.55) scale(1.110,1)" text-anchor="end" class="tb">105</text>
<text transform="translate(239.60,1111.55) scale(1.110,1)" text-anchor="end" class="tb">69</text>
<text transform="translate(315.80,1111.55) scale(1.110,1)" text-anchor="end" class="tb">20</text>
<text transform="translate(384.80,1111.55) scale(1.110,1)" text-anchor="middle" class="tb">0</text>
<text transform="translate(461.00,1111.55) scale(1.110,1)" text-anchor="middle" class="tb">-</text>
<text transform="translate(6.80,1131.75) scale(1.110,1)" class="tb">2010s</text>
<text transform="translate(91.40,1131.75) scale(1.110,1)" text-anchor="end" class="tb">218</text>
<text transform="translate(167.10,1131.75) scale(1.110,1)" text-anchor="end" class="tb">56</text>
<text transform="translate(239.60,1131.75) scale(1.110,1)" text-anchor="end" class="tb">1</text>
<text transform="translate(315.80,1131.75) scale(1.110,1)" text-anchor="end" class="tb">0</text>
<text transform="translate(384.80,1131.75) scale(1.110,1)" text-anchor="middle" class="tb">-</text>
<text transform="translate(461.00,1131.75) scale(1.110,1)" text-anchor="middle" class="tb">-</text>
</svg>
</body></html>
